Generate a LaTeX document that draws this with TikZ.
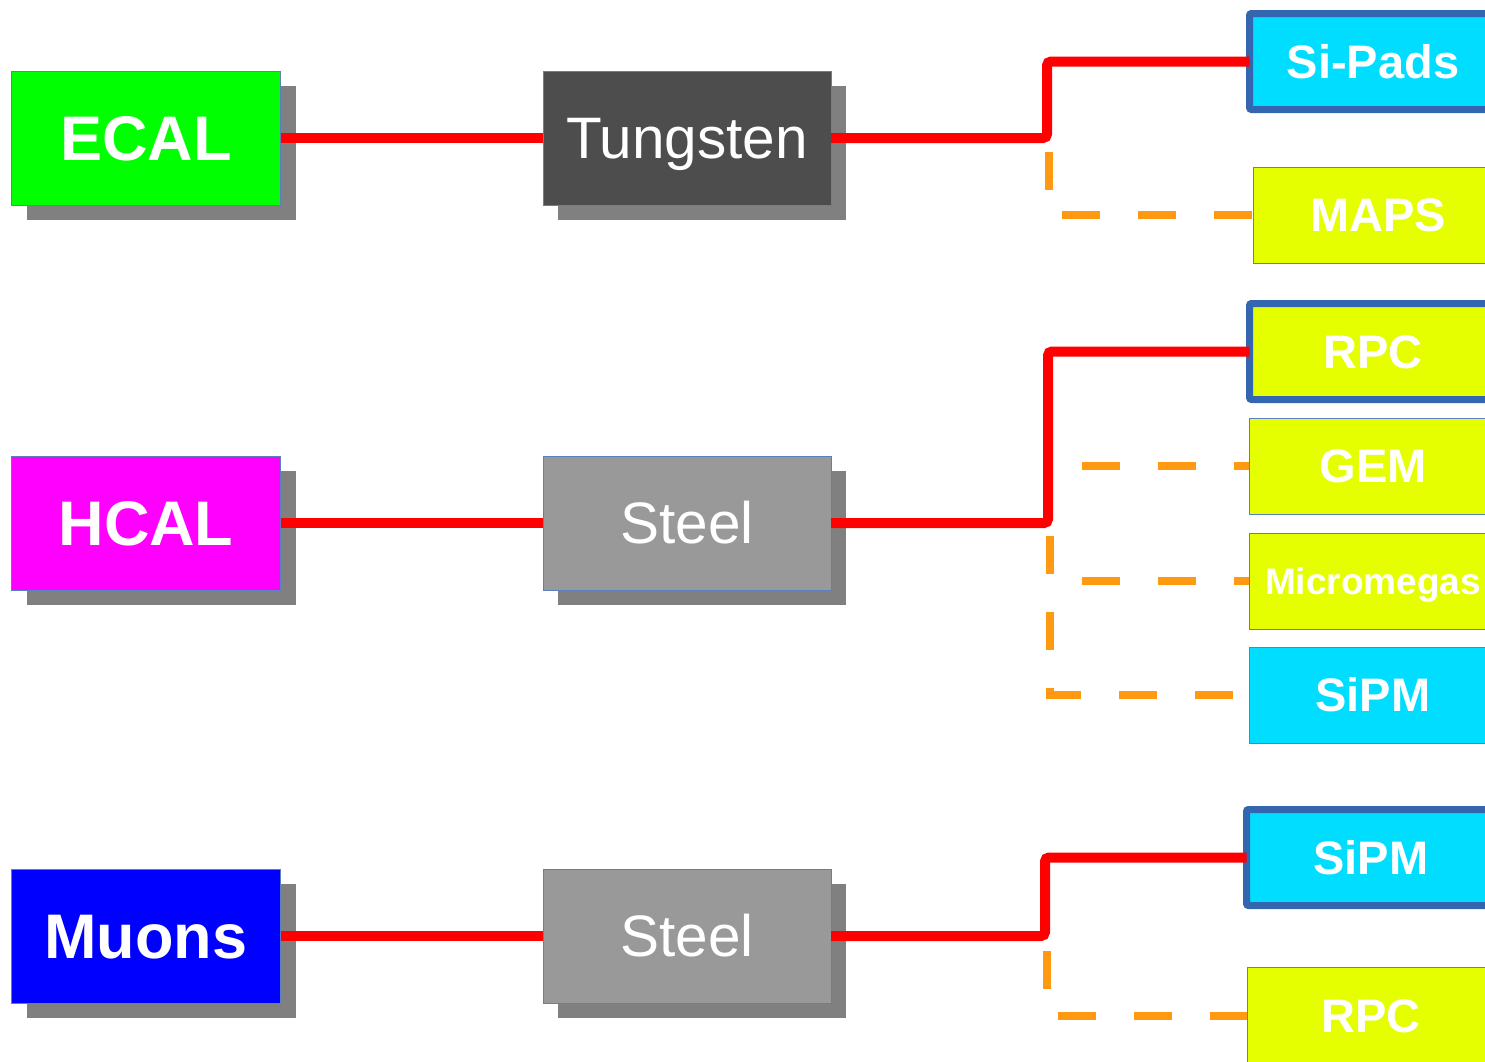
\documentclass[tikz,border=0pt]{standalone}
\usepackage{fontspec}
\setmainfont{Liberation Sans}
\usetikzlibrary{shadows}

\definecolor{shgray}{HTML}{808080}
\definecolor{edgeblue}{HTML}{5B7FBF}
\definecolor{thickblue}{HTML}{3465AF}
\definecolor{ecalgreen}{HTML}{00FF00}
\definecolor{hcalmag}{HTML}{FF00FF}
\definecolor{muonblue}{HTML}{0000FF}
\definecolor{tungray}{HTML}{4D4D4D}
\definecolor{steelgray}{HTML}{999999}
\definecolor{sensorcyan}{HTML}{00DDFF}
\definecolor{sensoryellow}{HTML}{E5FF00}
\definecolor{linkred}{HTML}{FF0000}
\definecolor{optorange}{HTML}{FF9912}

\tikzset{
  box/.style={draw=edgeblue, line width=1pt, inner sep=0pt, outer sep=0pt,
    text=white, text depth=0pt, align=center},
  system/.style={box, minimum width=269, minimum height=134,
    font=\fontsize{63}{63}\selectfont\bfseries, text height=45.1pt,
    drop shadow={shadow xshift=15pt, shadow yshift=-15pt, opacity=1, fill=shgray}},
  absorber/.style={box, minimum width=288, minimum height=134,
    font=\fontsize{58.5}{58.5}\selectfont, text height=41.9pt,
    drop shadow={shadow xshift=15pt, shadow yshift=-15pt, opacity=1, fill=shgray}},
  sensor/.style={box, minimum width=248, minimum height=96, anchor=west,
    font=\fontsize{47}{47}\selectfont\bfseries, text height=33.7pt},
  chosen/.style={sensor, draw=thickblue, line width=7pt, rounded corners=2pt},
  baseline link/.style={draw=linkred, line width=10pt, rounded corners=4pt},
  option link/.style={draw=optorange, line width=7.5pt, dash pattern=on 38pt off 38pt},
}

\begin{document}
\begin{tikzpicture}[x=1pt, y=-1pt]
\useasboundingbox (0,0) rectangle (1485,1061);

% calorimeter systems
\node[system, fill=ecalgreen] (ecal)  at (146,138) {ECAL};
\node[system, fill=hcalmag]   (hcal)  at (146,523) {HCAL};
\node[system, fill=muonblue]  (muons) at (146,936) {Muons};

% absorbers
\node[absorber, fill=tungray]   (tung)   at (687,138) {Tungsten};
\node[absorber, fill=steelgray] (steelh) at (687,523) {Steel};
\node[absorber, fill=steelgray] (steelm) at (687,936) {Steel};

% read-out technologies
\node[chosen, fill=sensorcyan, minimum width=247] (sipads) at (1249.5,61.5) {Si-Pads};
\node[sensor, fill=sensoryellow, minimum width=250] (maps) at (1253,215) {MAPS};

\node[chosen, fill=sensoryellow, minimum width=247] (rpch) at (1249.5,351.5) {RPC};
\node[sensor, fill=sensoryellow] (gem) at (1249,466) {GEM};
\node[sensor, fill=sensoryellow, font=\fontsize{37}{37}\selectfont\bfseries,
      text height=26.5pt] (mmegas) at (1249,581) {Micromegas};
\node[sensor, fill=sensorcyan] (sipmh) at (1249,695) {SiPM};

\node[chosen, fill=sensorcyan, minimum width=249] (sipmm) at (1246.5,857.5) {SiPM};
\node[sensor, fill=sensoryellow, minimum height=98] (rpcm) at (1247,1016) {RPC};

% branching points
\coordinate (je) at (1047,138);
\coordinate (jh) at (1048,523);
\coordinate (jm) at (1045,936);
\coordinate (te) at (1049,138);
\coordinate (tgem) at (1048,466);
\coordinate (tmm) at (1048,581);
\coordinate (th) at (1050,523);
\coordinate (tm) at (1047,936);

% alternative options (dashed)
\draw[option link, dash phase=62pt] (te) |- (maps.west);
\draw[option link, dash phase=42pt] (tgem) -- (gem.west);
\draw[option link, dash phase=42pt] (tmm) -- (mmegas.west);
\draw[option link, dash phase=63pt] (th) |- (sipmh.west);
\draw[option link, dash phase=61pt] (tm) |- (rpcm.west);

% baseline choices (solid)
\draw[baseline link] (ecal.east) -- (tung.west);
\draw[baseline link] (tung.east) -- (je) |- (sipads.west);
\draw[baseline link] (hcal.east) -- (steelh.west);
\draw[baseline link] (steelh.east) -- (jh) |- (rpch.west);
\draw[baseline link] (muons.east) -- (steelm.west);
\draw[baseline link] (steelm.east) -- (jm) |- (sipmm.west);
\end{tikzpicture}
\end{document}
